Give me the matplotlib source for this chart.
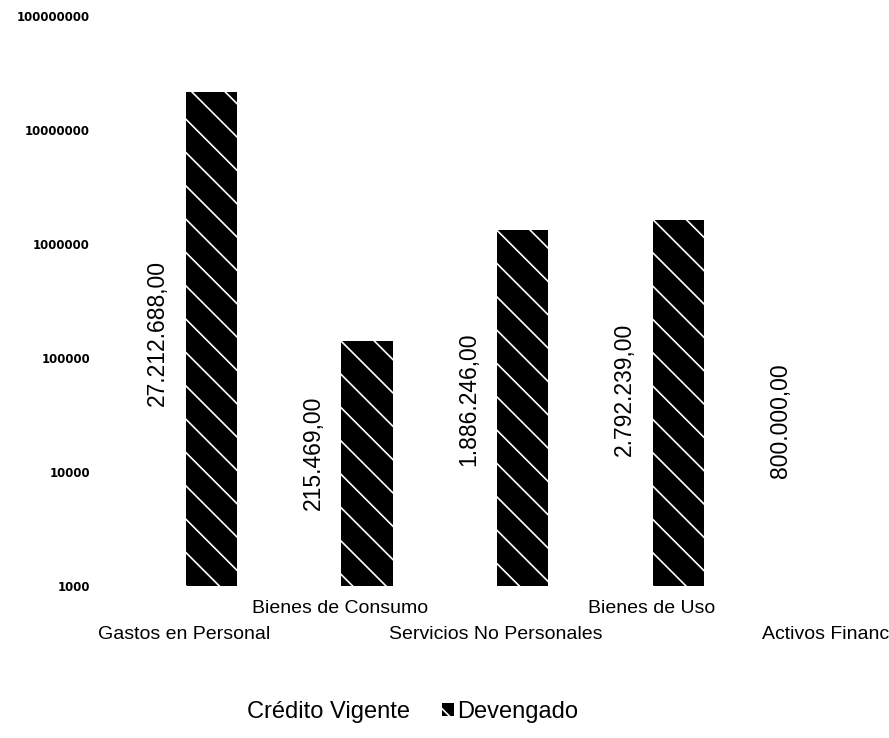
import numpy as np
import matplotlib
matplotlib.use('Agg')
import matplotlib.pyplot as plt
import matplotlib.transforms as mtransforms

# Data
categories = ['Gastos en Personal', 'Bienes de Consumo', 'Servicios No Personales',
              'Bienes de Uso', 'Activos Financ']
credito_vigente = [27212688.00, 215469.00, 1886246.00, 2792239.00, 800000.00]
devengado = [2.14e7, 1.41e5, 1.33e6, 1.63e6, 0]
credito_labels = ['27.212.688,00', '215.469,00', '1.886.246,00', '2.792.239,00', '800.000,00']
y_ticks = [1000, 10000, 100000, 1000000, 10000000, 100000000]

plt.rcParams['font.family'] = ['Liberation Sans', 'DejaVu Sans']
plt.rcParams['hatch.linewidth'] = 1.2

fig = plt.figure(figsize=(8.89, 7.38), dpi=100)
ax = fig.add_axes([0.120, 0.206, 0.8755, 0.7725])

x = np.arange(len(categories))
offset = 0.172
width = 0.33
y_min = 1000

# Crédito Vigente bars are drawn white (invisible), only their labels show
ax.bar(x - offset, credito_vigente, width, bottom=y_min, color='white',
       linewidth=0, label='Crédito Vigente')
ax.bar(x + offset, devengado, width, bottom=y_min, facecolor='black',
       edgecolor='white', linewidth=0, hatch='\\', label='Devengado')

ax.set_yscale('log')
ax.set_ylim(y_min, 1e8)
ax.set_xlim(-0.5, len(categories) - 0.5)

# value labels centred in the (invisible) Crédito Vigente bars
for xi, val, lab in zip(x, credito_vigente, credito_labels):
    ax.text(xi - offset, np.sqrt(y_min * val), lab, rotation=90,
            ha='center', va='center', fontsize=16.5, color='black')

ax.set_yticks(y_ticks)
ax.set_yticklabels([str(t) for t in y_ticks], fontfamily='DejaVu Sans',
                   fontweight='bold', fontsize=8.5)
ax.minorticks_off()
ax.tick_params(axis='y', length=0, pad=12)

# staggered category labels: every other one drops to a second row
ax.set_xticks(x)
ax.set_xticklabels(categories, fontsize=14)
ax.tick_params(axis='x', length=0, pad=10)
for i, lbl in enumerate(ax.get_xticklabels()):
    dx = 18 if i == len(categories) - 1 else 0
    dy = -26 if i % 2 == 0 else 0
    lbl.set_transform(lbl.get_transform() +
                      mtransforms.ScaledTranslation(dx / 100, dy / 100, fig.dpi_scale_trans))

for s in ax.spines.values():
    s.set_visible(False)

fig.legend(loc='center', bbox_to_anchor=(405 / 889, 1 - 712 / 738), ncol=2,
           frameon=False, fontsize=17, handlelength=0.5, handleheight=0.5,
           handletextpad=0.15, columnspacing=1.35)

fig.savefig('out.png', dpi=100)
